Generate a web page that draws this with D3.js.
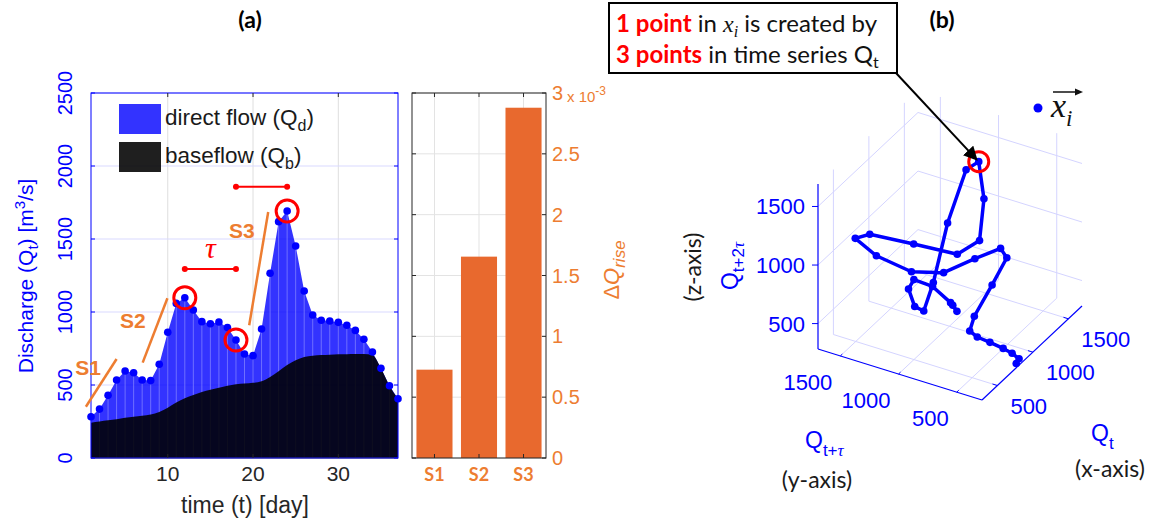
<!DOCTYPE html>
<html>
<head>
<meta charset="utf-8">
<script src="https://cdn.jsdelivr.net/npm/d3@7"></script>
<style>
  body { margin: 0; background: #fff; }
  svg { display: block; }
</style>
</head>
<body>
<div id="chart-area"></div>
<script>
// daily discharge Q_t (panel a shows days 1-37, the embedding uses the rest too)
var discharge = [283, 335, 429, 534, 596, 584, 534, 530, 642, 861, 1059, 1098, 1014, 934, 920,
    931, 893, 808, 712, 701, 884, 1265, 1619, 1692, 1452, 1144, 979, 943, 938, 929,
    909, 874, 813, 726, 614, 495, 406, 325, 312, 308, 300, 290, 287, 285, 284];
var baseflow = [242, 250, 258, 266, 275, 282, 290, 298, 315, 345, 380, 410, 432, 452, 468,
    482, 495, 505, 510, 515, 525, 555, 595, 637, 670, 692, 701, 705, 708, 710,
    711, 712, 712, 705, 614, 495, 406];
var shownDays = 37;
var tau = 6;
var peakDays = [12, 18, 24];
var tauBars = [{ from: 12, to: 18, level: 1295 }, { from: 18, to: 24, level: 1858 }];
var riseSegments = [
    { name: "S1", d0: 0.4, q0: 351, d1: 4.0, q1: 678, ld: 0.65, lq: 625 },
    { name: "S2", d0: 7.06, q0: 653, d1: 9.96, q1: 1094, ld: 5.9, lq: 945 },
    { name: "S3", d0: 19.55, q0: 909, d1: 21.78, q1: 1685, ld: 18.7, lq: 1562 }
];
var qTicks = [0, 500, 1000, 1500, 2000, 2500];
var dayTicks = [10, 20, 30];

// rising-limb bars
var riseNames = ["S1", "S2", "S3"];
var riseValues = [0.726, 1.655, 2.879]; // x 10^-3
var riseTicks = [0, 0.5, 1, 1.5, 2, 2.5, 3];

// 3-D phase space ticks
var cubeTicks = [500, 1000, 1500];

var svg = d3.select("#chart-area")
    .append("svg")
    .attr("width", 1153)
    .attr("height", 522)
    .style("font-family", "'Liberation Sans', Arial, sans-serif");

var blue = "#0000ff", orange = "#ed7d31", barOrange = "#e8692e", red = "#ff0000";

/* ---------------- panel (a) ---------------- */
var a = { left: 91, right: 398, top: 93, bottom: 458 };
var x = d3.scaleLinear().domain([1, shownDays]).range([a.left, a.right]);
var y = d3.scaleLinear().domain([0, 2500]).range([a.bottom, a.top]);

var rows = discharge.slice(0, shownDays).map(function(q, i) {
    return { day: i + 1, q: q, b: baseflow[i] };
});

svg.append("text")
    .attr("x", 250).attr("y", 28)
    .attr("text-anchor", "middle")
    .style("font-family", "Lato, sans-serif")
    .style("font-weight", "bold").style("font-size", "23px")
    .text("(a)");

var ga = svg.append("g");

// grid
ga.selectAll(".vgrid").data(dayTicks).enter().append("line")
    .attr("x1", function(d){ return x(d); }).attr("x2", function(d){ return x(d); })
    .attr("y1", a.top).attr("y2", a.bottom)
    .attr("stroke", "#dedede");
ga.selectAll(".hgrid").data(qTicks.slice(1)).enter().append("line")
    .attr("x1", a.left).attr("x2", a.right)
    .attr("y1", function(d){ return y(d); }).attr("y2", function(d){ return y(d); })
    .attr("stroke", "#d9d9ff");

// direct flow + baseflow areas
ga.append("path")
    .attr("d", d3.area().x(function(d){ return x(d.day); }).y0(y(0)).y1(function(d){ return y(d.q); })(rows))
    .attr("fill", blue).attr("fill-opacity", 0.8);
ga.selectAll(".stem").data(rows).enter().append("line")
    .attr("x1", function(d){ return x(d.day); }).attr("x2", function(d){ return x(d.day); })
    .attr("y1", y(0)).attr("y2", function(d){ return y(d.q); })
    .attr("stroke", "#a0a0ff").attr("stroke-opacity", 0.55).attr("stroke-width", 1);
ga.append("path")
    .attr("d", d3.area().curve(d3.curveMonotoneX)
        .x(function(d){ return x(d.day); }).y0(y(0)).y1(function(d){ return y(d.b); })(rows))
    .attr("fill", "#000").attr("fill-opacity", 0.88);

// axes box
ga.append("rect")
    .attr("x", a.left).attr("y", a.top)
    .attr("width", a.right - a.left).attr("height", a.bottom - a.top)
    .attr("fill", "none").attr("stroke", blue).attr("stroke-width", 1);
ga.append("line")
    .attr("x1", a.left).attr("x2", a.right).attr("y1", a.bottom).attr("y2", a.bottom)
    .attr("stroke", "#26268a").attr("stroke-width", 1);
qTicks.forEach(function(t) {
    ga.append("line").attr("x1", a.left).attr("x2", a.left + 4)
        .attr("y1", y(t)).attr("y2", y(t)).attr("stroke", blue);
    ga.append("line").attr("x1", a.right - 4).attr("x2", a.right)
        .attr("y1", y(t)).attr("y2", y(t)).attr("stroke", blue);
    ga.append("text")
        .attr("transform", "translate(72," + y(t) + ") rotate(-90)")
        .attr("text-anchor", "middle")
        .attr("fill", blue).style("font-size", "20px")
        .text(t);
});
dayTicks.forEach(function(t) {
    ga.append("line").attr("x1", x(t)).attr("x2", x(t))
        .attr("y1", a.bottom).attr("y2", a.bottom - 4).attr("stroke", "#262626");
    ga.append("line").attr("x1", x(t)).attr("x2", x(t))
        .attr("y1", a.top).attr("y2", a.top + 4).attr("stroke", "#262626");
    ga.append("text")
        .attr("x", x(t)).attr("y", 481)
        .attr("text-anchor", "middle")
        .attr("fill", "#262626").style("font-size", "21px")
        .text(t);
});
ga.append("text")
    .attr("x", 245).attr("y", 513)
    .attr("text-anchor", "middle")
    .attr("fill", "#262626").style("font-size", "23px")
    .text("time (t) [day]");

var yl = ga.append("text")
    .attr("transform", "translate(33,276) rotate(-90)")
    .attr("text-anchor", "middle")
    .attr("fill", blue).style("font-size", "21px");
yl.append("tspan").text("Discharge (Q");
yl.append("tspan").attr("dy", 5).style("font-size", "15px").text("t");
yl.append("tspan").attr("dy", -5).text(") [m");
yl.append("tspan").attr("dy", -8).style("font-size", "15px").text("3");
yl.append("tspan").attr("dy", 8).text("/s]");

// legend
var legendItems = [
    { label: "direct flow (Q", sub: "d", fill: blue, op: 0.8 },
    { label: "baseflow (Q", sub: "b", fill: "#000", op: 0.88 }
];
legendItems.forEach(function(d, i) {
    var ly = 104 + i * 38;
    ga.append("rect").attr("x", 119).attr("y", ly).attr("width", 42).attr("height", 30)
        .attr("fill", d.fill).attr("fill-opacity", d.op);
    var lt = ga.append("text").attr("x", 165).attr("y", ly + 21)
        .attr("fill", "#1a1a1a").style("font-size", "22.5px");
    lt.append("tspan").text(d.label);
    lt.append("tspan").attr("dy", 6).style("font-size", "16px").text(d.sub);
    lt.append("tspan").attr("dy", -6).text(")");
});

// rising limbs
riseSegments.forEach(function(s) {
    ga.append("line")
        .attr("x1", x(s.d0)).attr("y1", y(s.q0))
        .attr("x2", x(s.d1)).attr("y2", y(s.q1))
        .attr("stroke", orange).attr("stroke-width", 2.5);
    ga.append("text")
        .attr("x", x(s.ld)).attr("y", y(s.lq) + 8)
        .attr("text-anchor", "middle")
        .attr("fill", orange).style("font-weight", "bold").style("font-size", "21px")
        .text(s.name);
});

// data points
ga.selectAll(".pt").data(rows).enter().append("circle")
    .attr("cx", function(d){ return x(d.day); })
    .attr("cy", function(d){ return y(d.q); })
    .attr("r", 3.8).attr("fill", blue);

// delay bars
tauBars.forEach(function(t) {
    ga.append("line")
        .attr("x1", x(t.from)).attr("x2", x(t.to))
        .attr("y1", y(t.level)).attr("y2", y(t.level))
        .attr("stroke", red).attr("stroke-width", 2);
    [t.from, t.to].forEach(function(dd) {
        ga.append("circle").attr("cx", x(dd)).attr("cy", y(t.level)).attr("r", 3).attr("fill", red);
    });
});
ga.append("text")
    .attr("x", (x(tauBars[0].from) + x(tauBars[0].to)) / 2).attr("y", y(tauBars[0].level) - 11)
    .attr("text-anchor", "middle")
    .attr("fill", red)
    .style("font-family", "'Liberation Serif', serif").style("font-style", "italic")
    .style("font-size", "30px")
    .text("τ");

peakDays.forEach(function(dd) {
    ga.append("circle")
        .attr("cx", x(dd)).attr("cy", y(discharge[dd - 1]))
        .attr("r", 11).attr("fill", "none")
        .attr("stroke", red).attr("stroke-width", 3);
});

/* ---------------- rising-limb bars ---------------- */
var b = { left: 412, right: 546, top: 93, bottom: 458 };
var xb = d3.scaleBand().domain(riseNames).range([b.left, b.right])
    .paddingInner(0.19).paddingOuter(0.1);
var yb = d3.scaleLinear().domain([0, 3]).range([b.bottom, b.top]);
var gb = svg.append("g");

riseNames.forEach(function(n) {
    var cx = xb(n) + xb.bandwidth() / 2;
    gb.append("line").attr("x1", cx).attr("x2", cx).attr("y1", b.top).attr("y2", b.bottom)
        .attr("stroke", "#e3e3e3");
});
riseTicks.forEach(function(t) {
    gb.append("line").attr("x1", b.left).attr("x2", b.right).attr("y1", yb(t)).attr("y2", yb(t))
        .attr("stroke", "#e3e3e3");
});
gb.selectAll(".bar").data(riseValues).enter().append("rect")
    .attr("x", function(d, i){ return xb(riseNames[i]); })
    .attr("y", function(d){ return yb(d); })
    .attr("width", xb.bandwidth())
    .attr("height", function(d){ return yb(0) - yb(d); })
    .attr("fill", barOrange);
gb.append("rect")
    .attr("x", b.left).attr("y", b.top)
    .attr("width", b.right - b.left).attr("height", b.bottom - b.top)
    .attr("fill", "none").attr("stroke", "#262626");
riseTicks.forEach(function(t) {
    gb.append("line").attr("x1", b.left).attr("x2", b.left + 4).attr("y1", yb(t)).attr("y2", yb(t)).attr("stroke", "#262626");
    gb.append("line").attr("x1", b.right - 4).attr("x2", b.right).attr("y1", yb(t)).attr("y2", yb(t)).attr("stroke", "#262626");
    gb.append("text").attr("x", 552).attr("y", yb(t) + 7)
        .attr("fill", orange).style("font-size", "20px")
        .text(t);
});
riseNames.forEach(function(n) {
    var cx = xb(n) + xb.bandwidth() / 2;
    gb.append("line").attr("x1", cx).attr("x2", cx).attr("y1", b.bottom).attr("y2", b.bottom - 4).attr("stroke", "#262626");
    gb.append("line").attr("x1", cx).attr("x2", cx).attr("y1", b.top).attr("y2", b.top + 4).attr("stroke", "#262626");
    gb.append("text").attr("x", cx).attr("y", 481)
        .attr("text-anchor", "middle")
        .attr("fill", orange)
        .style("font-family", "Lato, sans-serif").style("font-weight", "bold").style("font-size", "18px")
        .text(n);
});
var mult = gb.append("text").attr("x", 567).attr("y", 102)
    .attr("fill", orange).style("font-size", "15px");
mult.append("tspan").text("x 10");
mult.append("tspan").attr("dy", -7).style("font-size", "12px").text("-3");

var rl = gb.append("text")
    .attr("transform", "translate(619,270) rotate(-90)")
    .attr("text-anchor", "middle")
    .attr("fill", orange).style("font-size", "22px").style("font-style", "italic");
rl.append("tspan").style("font-style", "normal").text("Δ");
rl.append("tspan").text("Q");
rl.append("tspan").attr("dy", 6).style("font-size", "17px").text("rise");

/* ---------------- panel (b): delay embedding ---------------- */
var qMin = d3.min(discharge), qMax = d3.max(discharge);
var f = d3.scaleLinear().domain([qMin, qMax]).range([0, 1]);
var origin = [982, 400];
var ex = [100, -94], ey = [-164, -51], ez = [0, -165];
function proj(p) {
    var u = f(p[0]), v = f(p[1]), w = f(p[2]);
    return [origin[0] + u * ex[0] + v * ey[0] + w * ez[0],
            origin[1] + u * ex[1] + v * ey[1] + w * ez[1]];
}

var embedded = [];
for (var t = 0; t + 2 * tau < discharge.length; t++) {
    embedded.push([discharge[t], discharge[t + tau], discharge[t + 2 * tau]]);
}

var gc = svg.append("g");
var gridColor = "#d4d4ff";
function seg(p0, p1, color, w) {
    var s0 = proj(p0), s1 = proj(p1);
    gc.append("line").attr("x1", s0[0]).attr("y1", s0[1]).attr("x2", s1[0]).attr("y2", s1[1])
        .attr("stroke", color).attr("stroke-width", w || 1);
}
cubeTicks.forEach(function(t) {
    // floor
    seg([t, qMin, qMin], [t, qMax, qMin], gridColor);
    seg([qMin, t, qMin], [qMax, t, qMin], gridColor);
    // back wall y = max
    seg([t, qMax, qMin], [t, qMax, qMax], gridColor);
    seg([qMin, qMax, t], [qMax, qMax, t], gridColor);
    // back wall x = max
    seg([qMax, t, qMin], [qMax, t, qMax], gridColor);
    seg([qMax, qMin, t], [qMax, qMax, t], gridColor);
});
// axes
seg([qMin, qMax, qMin], [qMin, qMax, qMax], blue, 1.2);
seg([qMin, qMin, qMin], [qMin, qMax, qMin], blue, 1.2);
seg([qMin, qMin, qMin], [qMax, qMin, qMin], blue, 1.2);
cubeTicks.forEach(function(t) {
    var pz = proj([qMin, qMax, t]);
    gc.append("line").attr("x1", pz[0] - 6).attr("x2", pz[0]).attr("y1", pz[1]).attr("y2", pz[1]).attr("stroke", blue);
    gc.append("text").attr("x", pz[0] - 13).attr("y", pz[1] + 8)
        .attr("text-anchor", "end").attr("fill", blue).style("font-size", "22px").text(t);
    var py = proj([qMin, t, qMin]);
    seg([qMin, t, qMin], [qMin + 0.02 * (qMax - qMin), t, qMin], blue);
    gc.append("text").attr("x", py[0] - 8).attr("y", py[1] + 34)
        .attr("text-anchor", "end").attr("fill", blue).style("font-size", "22px").text(t);
    var px = proj([t, qMin, qMin]);
    seg([t, qMin, qMin], [t, qMin + 0.03 * (qMax - qMin), qMin], blue);
    gc.append("text").attr("x", px[0] + 13).attr("y", px[1] + 28)
        .attr("text-anchor", "start").attr("fill", blue).style("font-size", "22px").text(t);
});

// trajectory
gc.append("path")
    .attr("d", d3.line().x(function(d){ return proj(d)[0]; }).y(function(d){ return proj(d)[1]; })(embedded))
    .attr("fill", "none").attr("stroke", blue).attr("stroke-width", 3.5)
    .attr("stroke-linejoin", "round");
gc.selectAll(".ep").data(embedded).enter().append("circle")
    .attr("cx", function(d){ return proj(d)[0]; })
    .attr("cy", function(d){ return proj(d)[1]; })
    .attr("r", 3.8).attr("fill", blue);
var hp = proj(embedded[peakDays[0] - 1]);
gc.append("circle").attr("cx", hp[0]).attr("cy", hp[1]).attr("r", 10)
    .attr("fill", "none").attr("stroke", red).attr("stroke-width", 3);

// axis titles
var zt = gc.append("text").attr("transform", "translate(738,266) rotate(-90)")
    .attr("text-anchor", "middle").attr("fill", blue).style("font-size", "23px");
zt.append("tspan").text("Q");
zt.append("tspan").attr("dy", 6).style("font-size", "17px").text("t+2");
zt.append("tspan").style("font-size", "17px").style("font-style", "italic")
    .style("font-family", "'Liberation Serif', serif").text("τ");
gc.append("text").attr("transform", "translate(701,267) rotate(-90)")
    .attr("text-anchor", "middle").attr("fill", "#1a1a1a")
    .style("font-family", "Lato, sans-serif").style("font-size", "23px").text("(z-axis)");

var yt = gc.append("text").attr("x", 805).attr("y", 448).attr("fill", blue).style("font-size", "23px");
yt.append("tspan").text("Q");
yt.append("tspan").attr("dy", 8).style("font-size", "17px").text("t+");
yt.append("tspan").style("font-size", "17px").style("font-style", "italic")
    .style("font-family", "'Liberation Serif', serif").text("τ");
gc.append("text").attr("x", 817).attr("y", 488).attr("text-anchor", "middle")
    .attr("fill", "#1a1a1a").style("font-family", "Lato, sans-serif").style("font-size", "23px")
    .text("(y-axis)");

var xt = gc.append("text").attr("x", 1091).attr("y", 441).attr("fill", blue).style("font-size", "23px");
xt.append("tspan").text("Q");
xt.append("tspan").attr("dy", 8).style("font-size", "17px").text("t");
gc.append("text").attr("x", 1110).attr("y", 477).attr("text-anchor", "middle")
    .attr("fill", "#1a1a1a").style("font-family", "Lato, sans-serif").style("font-size", "23px")
    .text("(x-axis)");

svg.append("text")
    .attr("x", 942).attr("y", 28)
    .attr("text-anchor", "middle")
    .style("font-family", "Lato, sans-serif")
    .style("font-weight", "bold").style("font-size", "23px")
    .text("(b)");

// legend for x_i
svg.append("circle").attr("cx", 1038).attr("cy", 108).attr("r", 4.5).attr("fill", blue);
var xi = svg.append("text").attr("x", 1051).attr("y", 117)
    .style("font-family", "'Liberation Serif', serif").style("font-style", "italic")
    .style("font-size", "34px").attr("fill", "#111");
xi.append("tspan").text("x");
xi.append("tspan").attr("dy", 9).style("font-size", "23px").text("i");
svg.append("line").attr("x1", 1053).attr("x2", 1080).attr("y1", 92).attr("y2", 92)
    .attr("stroke", "#111").attr("stroke-width", 1.5);
svg.append("path").attr("d", "M1083,92 L1075,88.5 L1075,95.5 Z").attr("fill", "#111");

// annotation box + arrow
svg.append("defs").append("marker")
    .attr("id", "arr").attr("viewBox", "0 0 10 10").attr("refX", 9).attr("refY", 5)
    .attr("markerWidth", 7).attr("markerHeight", 7).attr("orient", "auto")
    .append("path").attr("d", "M0,0 L10,5 L0,10 Z").attr("fill", "#000");
svg.append("line").attr("x1", 896).attr("y1", 73).attr("x2", hp[0] - 2).attr("y2", hp[1] - 2)
    .attr("stroke", "#000").attr("stroke-width", 2).attr("marker-end", "url(#arr)");
svg.append("rect").attr("x", 609).attr("y", 3).attr("width", 288).attr("height", 70)
    .attr("fill", "#fff").attr("stroke", "#000").attr("stroke-width", 2);
var l1 = svg.append("text").attr("x", 616).attr("y", 32)
    .style("font-family", "Lato, sans-serif").style("font-size", "24px").attr("fill", "#111");
l1.append("tspan").attr("fill", red).style("font-weight", "bold").text("1 point");
l1.append("tspan").text(" in ");
l1.append("tspan").style("font-family", "'Liberation Serif', serif").style("font-style", "italic").text("x");
l1.append("tspan").attr("dy", 5).style("font-family", "'Liberation Serif', serif").style("font-style", "italic").style("font-size", "16px").text("i");
l1.append("tspan").attr("dy", -5).text(" is created by");
var l2 = svg.append("text").attr("x", 616).attr("y", 63)
    .style("font-family", "Lato, sans-serif").style("font-size", "24px").attr("fill", "#111");
l2.append("tspan").attr("fill", red).style("font-weight", "bold").text("3 points");
l2.append("tspan").text(" in time series Q");
l2.append("tspan").attr("dy", 5).style("font-size", "16px").text("t");
</script>
</body>
</html>
